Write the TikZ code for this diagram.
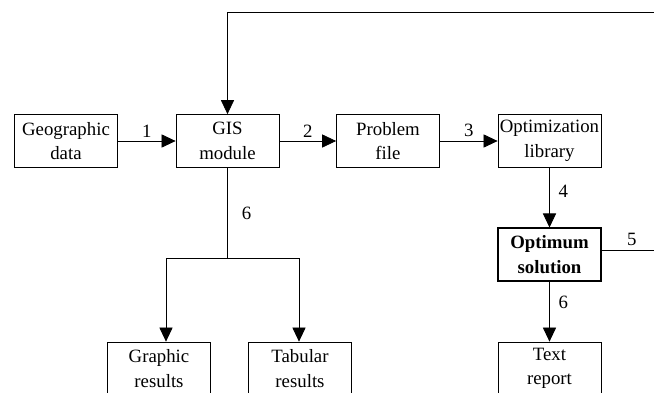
\documentclass[tikz,border=0pt]{standalone}
\usepackage{fontspec}
\setmainfont{Liberation Serif}
\usetikzlibrary{arrows.meta,positioning}

\begin{document}
\begin{tikzpicture}
		[x=0.02cm,y=-0.02cm,
		line width=0.45pt,
		font=\fontsize{10.7}{14}\selectfont,
		box/.style={draw,minimum width=2.06cm,minimum height=1.06cm,
			align=center,inner sep=0pt},
		flow/.style={-{Triangle[length=8pt,width=7.5pt]}},
		num/.style={inner sep=2pt}
		]
		\useasboundingbox (0,0) rectangle (654,393);
		\clip (0,0) rectangle (654,393);
		% top row
		\node[box] (geo) at (66,141) {Geographic\\data};
		\node[box] (gis) at (227.5,141) {GIS\\module};
		\node[box] (prob) at (388,141) {Problem\\file};
		\node[box] (optlib) at (549.5,141) {Optimization\\library};
		% right column
		\node[box,line width=0.6pt] (optsol) at (549.5,254.5) {\textbf{Optimum}\\\textbf{solution}};
		\node[box] (report) at (549.5,368.5) {Text\\report};
		% results
		\node[box] (graphic) at (159,368.5) {Graphic\\results};
		\node[box] (tabular) at (300,368.5) {Tabular\\results};

		\coordinate (fbright) at (662,250);
		\coordinate (fbtop) at (662,12);
		\coordinate (gsplit) at (227.5,258);
		\coordinate (gleft) at (166,258);
		\coordinate (gright) at (299,258);

		\draw[flow] (geo) -- node[num,above] {1} (gis);
		\draw[flow] (gis) -- node[num,above] {2} (prob);
		\draw[flow] (prob) -- node[num,above] {3} (optlib);
		\draw[flow] (optlib) -- node[num,right,pos=0.4,xshift=3pt] {4} (optsol);
		\draw[flow] (optsol) -- node[num,right,pos=0.35,xshift=3pt] {6} (report);
		\draw[flow] (optsol.east |- fbright) -- node[num,above] {5} (fbright)
			-- (fbtop) -| (gis.north);
		\draw (gis) -- node[num,right,xshift=6pt] {6} (gsplit);
		\draw (gleft) -- (gright);
		\draw[flow] (gleft) -- (gleft |- graphic.north);
		\draw[flow] (gright) -- (gright |- tabular.north);
	\end{tikzpicture}
\end{document}
